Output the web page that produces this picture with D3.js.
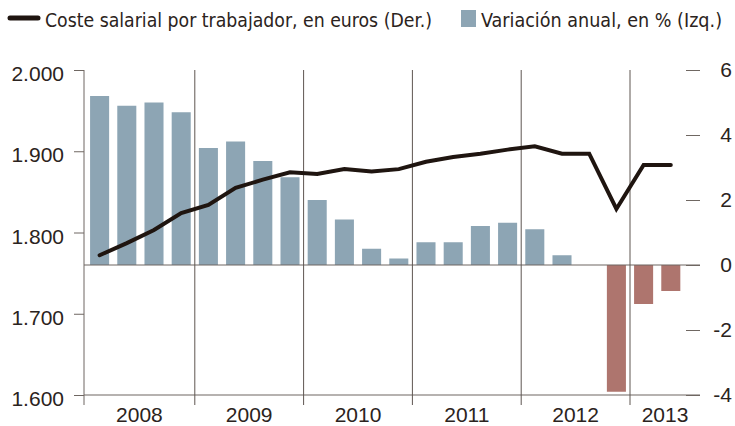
<!DOCTYPE html>
<html><head><meta charset="utf-8">
<script src="https://cdn.jsdelivr.net/npm/d3@7"></script>
<style>
html,body{margin:0;padding:0;background:#fff;}
svg{display:block;}
</style></head>
<body>
<svg id="chart" width="735" height="426"></svg>
<script>
// ---- data ----
const quarters = ["2008T1","2008T2","2008T3","2008T4","2009T1","2009T2","2009T3","2009T4",
  "2010T1","2010T2","2010T3","2010T4","2011T1","2011T2","2011T3","2011T4",
  "2012T1","2012T2","2012T3","2012T4","2013T1","2013T2"];
const years = ["2008","2009","2010","2011","2012","2013"];
const variacion = [5.2,4.9,5.0,4.7,3.6,3.8,3.2,2.7,2.0,1.4,0.5,0.2,0.7,0.7,1.2,1.3,1.1,0.3,0.0,-3.9,-1.2,-0.8];
const coste = [1772,1787,1803,1824,1834,1855,1865,1874,1872,1878,1875,1878,1887,1893,1897,1902,1906,1897,1897,1829,1883,1883];
const leftTicks = [1600,1700,1800,1900,2000];
const rightTicks = [-4,-2,0,2,4,6];
const legendLine = "Coste salarial por trabajador, en euros (Der.)";
const legendBar = "Variación anual, en % (Izq.)";

// ---- layout ----
const svg = d3.select("#chart");
const topY = 70, bottomY = 395, leftX = 84, rightX = 700;
const textColor = "#2b2320";
const numFont = "'Liberation Sans', Arial, sans-serif";
const legFont = "'Liberation Sans Narrow', 'DejaVu Sans Condensed', 'Liberation Sans', sans-serif";

const x = d3.scaleBand().domain(quarters).range([86, 86 + 27.2 * quarters.length])
  .paddingInner(0.3).paddingOuter(0.15);
const yL = d3.scaleLinear().domain([1600, 2000]).range([bottomY, topY]);
const yR = d3.scaleLinear().domain([-4, 6]).range([bottomY, topY]);
const gapHalf = x.step() * 0.3 / 2;

// bars
svg.append("g").selectAll("rect").data(quarters).join("rect")
  .attr("x", d => x(d))
  .attr("width", x.bandwidth())
  .attr("y", (d, i) => yR(Math.max(0, variacion[i])))
  .attr("height", (d, i) => Math.abs(yR(variacion[i]) - yR(0)))
  .attr("fill", (d, i) => variacion[i] >= 0 ? "#8da5b4" : "#ae756e");

// horizontal lines
svg.append("line").attr("x1", leftX).attr("x2", rightX).attr("y1", yR(0)).attr("y2", yR(0))
  .attr("stroke", "#6f6762").attr("stroke-width", 1.2);
svg.append("line").attr("x1", leftX).attr("x2", rightX).attr("y1", bottomY).attr("y2", bottomY)
  .attr("stroke", "#6f6762").attr("stroke-width", 1.2);

// left axis
const axL = svg.append("g").attr("transform", `translate(${leftX},0)`)
  .call(d3.axisLeft(yL).tickValues(leftTicks).tickSize(10).tickPadding(10)
    .tickFormat(d => d3.format(",")(d).replace(",", ".")));
axL.select(".domain").attr("stroke", "#6f6762").attr("d", `M0,${topY}V${bottomY + 10}`);
axL.selectAll(".tick line").attr("stroke", "#6f6762");
axL.selectAll(".tick text").attr("font-family", numFont).attr("font-size", 21)
  .attr("fill", textColor).attr("dy", "0.5em");

// right axis
const axR = svg.append("g").attr("transform", `translate(${rightX},0)`)
  .call(d3.axisLeft(yR).tickValues(rightTicks).tickSize(14).tickPadding(0).tickFormat(d => String(d)));
axR.select(".domain").remove();
axR.selectAll(".tick line").attr("stroke", "#6f6762");
axR.selectAll(".tick text").attr("font-family", numFont).attr("font-size", 21)
  .attr("fill", textColor).attr("text-anchor", "end").attr("x", 32).attr("dy", "0.32em");

// year dividers and labels
const yearStart = years.map(yr => x(quarters.find(q => q.startsWith(yr))) - gapHalf);
svg.append("g").selectAll("line").data(years.slice(1)).join("line")
  .attr("x1", (d, i) => yearStart[i + 1]).attr("x2", (d, i) => yearStart[i + 1])
  .attr("y1", topY).attr("y2", bottomY + 10)
  .attr("stroke", "#5e5651").attr("stroke-width", 1);
svg.append("g").selectAll("text").data(years).join("text")
  .attr("x", (d, i) => ((i === 0 ? leftX : yearStart[i]) + (i < years.length - 1 ? yearStart[i + 1] : rightX)) / 2)
  .attr("y", 422)
  .attr("text-anchor", "middle")
  .attr("font-family", numFont).attr("font-size", 21).attr("fill", textColor)
  .text(d => d);

// line
const line = d3.line().x((d, i) => x(quarters[i]) + x.bandwidth() / 2).y(d => yL(d));
svg.append("path").datum(coste).attr("d", line)
  .attr("fill", "none").attr("stroke", "#1f1510").attr("stroke-width", 4)
  .attr("stroke-linejoin", "miter").attr("stroke-linecap", "round");

// legend
const leg = svg.append("g");
leg.append("line").attr("x1", 10).attr("x2", 38).attr("y1", 18).attr("y2", 18)
  .attr("stroke", "#1f1510").attr("stroke-width", 5).attr("stroke-linecap", "round");
leg.append("text").attr("x", 45).attr("y", 27)
  .attr("font-family", legFont).attr("font-size", 20).attr("fill", textColor)
  .attr("textLength", 387).attr("lengthAdjust", "spacingAndGlyphs")
  .text(legendLine);
leg.append("rect").attr("x", 461).attr("y", 10).attr("width", 15).attr("height", 17)
  .attr("fill", "#8da5b4");
leg.append("text").attr("x", 481).attr("y", 27)
  .attr("font-family", legFont).attr("font-size", 20).attr("fill", textColor)
  .attr("textLength", 241).attr("lengthAdjust", "spacingAndGlyphs")
  .text(legendBar);
</script>
</body></html>
